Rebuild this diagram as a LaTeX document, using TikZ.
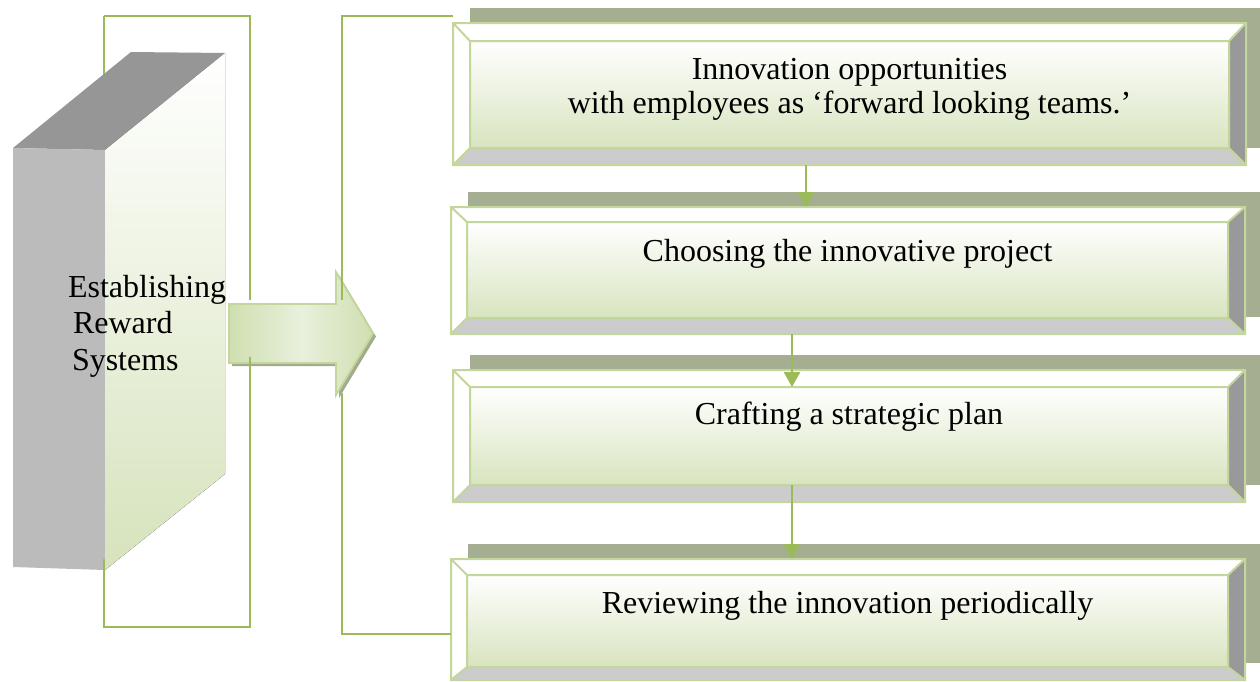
\documentclass[tikz,border=0pt]{standalone}
\usepackage{fontspec}
\setmainfont{Liberation Serif}
\usetikzlibrary{calc,arrows.meta,fit}

\definecolor{greenline}{HTML}{9BBB59}
\definecolor{boxline}{HTML}{C3D69B}
\definecolor{shadowc}{HTML}{A6AE92}
\definecolor{botgray}{HTML}{CCCCCC}
\definecolor{rightgray}{HTML}{999999}
\definecolor{facegreen}{HTML}{D8E4BF}
\definecolor{blocktop}{HTML}{969696}
\definecolor{blockside}{HTML}{BBBBBB}
\definecolor{blockgreen}{HTML}{D6E3BC}
\definecolor{arrowlight}{HTML}{E8F0DC}
\definecolor{arrowdark}{HTML}{CFDFB0}
\definecolor{arrowshadow}{HTML}{A3AB8E}

\tikzset{
  txt/.style={font=\fontsize{32}{36}\selectfont, inner sep=0pt, outer sep=0pt},
  frame/.style={inner sep=0pt, outer sep=0pt},
  bracket/.style={draw=greenline, line width=2.4pt},
  flow/.style={draw=greenline, line width=2.8pt, -{Triangle[width=16pt,length=15pt]}},
  rim/.style={draw=boxline, line width=2pt, line join=miter},
}

% bevelled panel: name, outer corners, face corners
\newcommand\bevelpanel[9]{%
  \node[frame, fit={(#2,#3) (#4,#5)}] (o#1) {};
  \node[frame, fit={(#6,#7) (#8,#9)}] (f#1) {};
  \fill[shadowc] ($(o#1.north west)+(17,-15)$) rectangle ($(o#1.south east)+(30,-17)$);
  \fill[white] (o#1.north west) -- (o#1.north east) -- (f#1.north east) -- (f#1.north west) -- cycle;
  \fill[white] (o#1.north west) -- (f#1.north west) -- (f#1.south west) -- (o#1.south west) -- cycle;
  \fill[botgray] (o#1.south west) -- (f#1.south west) -- (f#1.south east) -- (o#1.south east) -- cycle;
  \fill[rightgray] (o#1.north east) -- (o#1.south east) -- (f#1.south east) -- (f#1.north east) -- cycle;
  \fill[top color=white, bottom color=facegreen] (f#1.north west) rectangle (f#1.south east);
  \draw[rim] (o#1.north west) rectangle (o#1.south east)
             (f#1.north west) rectangle (f#1.south east)
             (o#1.north west) -- (f#1.north west)
             (o#1.north east) -- (f#1.north east)
             (o#1.south west) -- (f#1.south west)
             (o#1.south east) -- (f#1.south east);
}

\begin{document}
\begin{tikzpicture}[x=1pt, y=-1pt]
\useasboundingbox (0,0) rectangle (1260,681);
\fill[white] (0,0) rectangle (1260,681);

% the four process panels
\bevelpanel{1}{453}{23}{1246}{165}{470}{41}{1229}{148}
\bevelpanel{2}{451}{207}{1245}{334}{467}{222}{1228}{318}
\bevelpanel{3}{453}{370}{1245}{502}{470}{387}{1228}{485}
\bevelpanel{4}{451}{559}{1245}{680}{467}{575}{1228}{667}

% flow between panels
\coordinate (ax1) at (806,0);
\coordinate (ax2) at (792,0);
\draw[flow] (o1.south -| ax1) -- (o2.north -| ax1);
\draw[flow] (o2.south -| ax2) -- (f3.north -| ax2);
\draw[flow] (f3.south -| ax2) -- (o4.north -| ax2);

% bracket behind the block (left part)
\coordinate (lb1) at (104,16);
\coordinate (lb2) at (250,16);
\coordinate (lb3) at (250,627);
\coordinate (lb4) at (104,627);
\draw[bracket] (lb1) -- ++(0,60);

% the 3D block
\coordinate (k1) at (13,148);
\coordinate (k2) at (131,52);
\coordinate (k3) at (225,53);
\coordinate (k4) at (105,150);
\coordinate (k5) at (225,474);
\coordinate (k6) at (105,570);
\coordinate (k7) at (13,567);
\fill[blocktop] (k1) -- (k2) -- (k3) -- (k4) -- cycle;
\fill[blockside] (k1) -- (k4) -- (k6) -- (k7) -- cycle;
\fill[top color=white, bottom color=blockgreen] (k4) -- (k3) -- (k5) -- (k6) -- cycle;

% block arrow with its drop shadow
\fill[arrowshadow] (232,307) -- (339,307) -- (339,275) -- (376,336.5) -- (339,398) -- (339,366) -- (232,366) -- cycle;
\filldraw[draw=boxline, line width=1.8pt, shading angle=135, left color=arrowdark, right color=arrowdark, middle color=arrowlight]
  (229,304) -- (336,304) -- (336,272) -- (373,333.5) -- (336,395) -- (336,363) -- (229,363) -- cycle;

% bracket lines
\draw[bracket] (lb1) -- (lb2) -- (250,300);
\draw[bracket] (250,357) -- (lb3) -- (lb4) -- (104,559);
\coordinate (rb1) at (342,16);
\coordinate (rb2) at (342,634);
\draw[bracket] (o1.west |- rb1) -- (rb1) -- (342,300);
\draw[bracket] (342,393) -- (rb2) -- (o4.west |- rb2);

% labels
\node[txt, anchor=base west] (e1) at (68,297) {Establishing};
\node[txt, anchor=base west] (e2) at (73,333) {Reward};
\node[txt, anchor=base west] (e3) at (72,370) {Systems};

\node[txt, anchor=base] (t1a) at ($(f1.north)+(0,38)$) {Innovation opportunities};
\node[txt, anchor=base] (t1b) at ($(f1.north)+(0,72)$) {with employees as ‘forward looking teams.’};
\node[txt, anchor=base] (t2) at ($(f2.north)+(0,39)$) {Choosing the innovative project};
\node[txt, anchor=base] (t3) at ($(f3.north)+(0,37)$) {Crafting a strategic plan};
\node[txt, anchor=base] (t4) at ($(f4.north)+(0,38)$) {Reviewing the innovation periodically};
\end{tikzpicture}
\end{document}
